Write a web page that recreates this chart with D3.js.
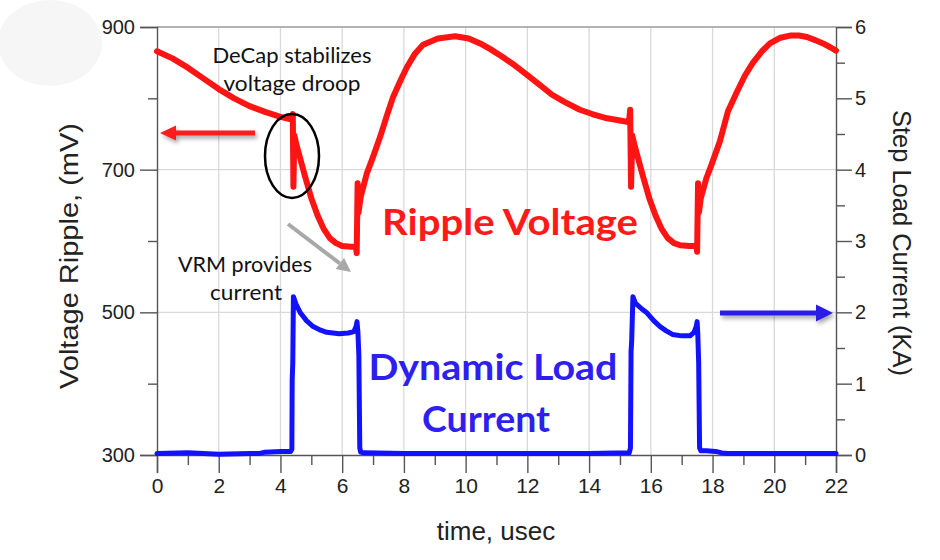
<!DOCTYPE html>
<html><head><meta charset="utf-8">
<script src="https://cdn.jsdelivr.net/npm/d3@7"></script>
<style>
html,body{margin:0;padding:0;background:#fff;}
svg{display:block;}
</style></head>
<body>
<svg id="chart" width="940" height="560"></svg>
<script>
// ---------------- data ----------------
const xTicks = [0,2,4,6,8,10,12,14,16,18,20,22];
const xMinorTicks = [1,3,5,7,9,11,13,15,17,19,21];
const leftTicks = [300,500,700,900];
const leftMinorTicks = [400,600,800];
const rightTicks = [0,1,2,3,4,5,6];
const rightMinorTicks = [0.5,1.5,2.5,3.5,4.5,5.5];

const rippleTime = [0,0.5,1,1.5,2,2.5,3,3.5,4,4.3,4.38,4.4,4.42,4.45,4.5,4.6,4.8,5.0,5.2,5.4,5.6,5.8,6.0,6.3,6.45,6.47,6.5,6.53,6.6,6.8,7.0,7.23,7.45,7.65,7.9,8.1,8.35,8.62,9.1,9.66,10.1,10.47,10.8,11.2,11.6,11.99,12.4,12.8,13.2,13.7,14.1,14.58,15.0,15.23,15.3,15.33,15.36,15.4,15.45,15.55,15.75,15.95,16.15,16.35,16.55,16.75,16.95,17.25,17.48,17.5,17.53,17.56,17.62,17.8,17.95,18.24,18.5,18.8,19.05,19.31,19.6,19.86,20.2,20.51,20.8,21.06,21.3,21.58,21.8,22];
const rippleMV = [866,856,843,828,813,800,789,781,774,771,775,778,676,748,738,722,690,660,636,617,604,597,593,592,592,583,681,640,662,695,718,746,776,802,826,844,862,875,884,887,884,877,869,858,846,833,819,805,795,784,778,772,769,767,770,784,676,748,738,722,690,660,636,617,604,597,594,593,593,585,681,640,660,688,705,740,782,810,832,850,866,877,885,888,888,886,882,877,872,867];

const loadTime = [0,1,2,3,3.3,3.5,4.0,4.33,4.37,4.38,4.40,4.42,4.5,4.65,4.85,5.06,5.3,5.5,5.9,6.2,6.38,6.45,6.48,6.51,6.54,6.57,6.6,6.7,8,10,12,14,15.3,15.34,15.36,15.38,15.42,15.5,15.7,15.88,16.1,16.3,16.5,16.7,17.0,17.27,17.4,17.47,17.5,17.52,17.55,17.58,17.62,17.8,18.1,18.3,18.5,20,22];
const loadKA = [0.02,0.03,0.01,0.02,0.02,0.04,0.05,0.05,0.08,1.05,1.3,2.22,2.12,1.99,1.88,1.8,1.75,1.72,1.70,1.71,1.73,1.80,1.87,1.72,1.40,0.1,0.04,0.03,0.02,0.02,0.02,0.02,0.03,0.1,1.45,1.6,2.22,2.13,2.05,1.99,1.88,1.8,1.74,1.69,1.67,1.67,1.72,1.8,1.87,1.72,1.3,0.1,0.06,0.06,0.05,0.03,0.02,0.02,0.02];

const xTitle = "time, usec";
const leftTitle = "Voltage Ripple, (mV)";
const rightTitle = "Step Load Current (KA)";

// ---------------- layout ----------------
const svg = d3.select("#chart");
const L = 157, R = 836, T = 27, B = 455;
const x = d3.scaleLinear().domain([0,22]).range([L,R]);
const yL = d3.scaleLinear().domain([300,900]).range([B,T]);
const yR = d3.scaleLinear().domain([0,6]).range([B,T]);

const defs = svg.append("defs");
const shadow = defs.append("filter").attr("id","shadow").attr("x","-20%").attr("y","-100%").attr("width","140%").attr("height","300%");
shadow.append("feDropShadow").attr("dx",2).attr("dy",3).attr("stdDeviation",2).attr("flood-color","#000").attr("flood-opacity",0.35);

// faint decorative circle top-left
svg.append("ellipse").attr("cx",50).attr("cy",43).attr("rx",52).attr("ry",43).attr("fill","#f6f6f6");

// gridlines
const grid = svg.append("g");
grid.selectAll("line.v").data(xTicks.filter(d=>d>0&&d<22)).join("line")
  .attr("x1",d=>x(d)).attr("x2",d=>x(d)).attr("y1",T).attr("y2",B)
  .attr("stroke","#d9d9d9").attr("stroke-width",1.3);
grid.selectAll("line.h").data([500,700]).join("line")
  .attr("x1",L).attr("x2",R).attr("y1",d=>yL(d)).attr("y2",d=>yL(d))
  .attr("stroke","#d9d9d9").attr("stroke-width",1.3);
// top frame
svg.append("line").attr("x1",L).attr("x2",R).attr("y1",T).attr("y2",T).attr("stroke","#9a9a9a").attr("stroke-width",1.3);

const tickFont = "'Liberation Sans', Arial, sans-serif";
function styleAxis(g){
  g.select(".domain").attr("stroke","#555").attr("stroke-width",1.4);
  g.selectAll(".tick line").attr("stroke","#555").attr("stroke-width",1.4);
  g.selectAll(".tick text").attr("fill","#222").style("font-family",tickFont);
}

// bottom axis
const gx = svg.append("g").attr("transform",`translate(0,${B})`)
  .call(d3.axisBottom(x).tickValues(xTicks).tickSize(18).tickPadding(5).tickFormat(d3.format("d")));
styleAxis(gx); gx.selectAll(".tick text").style("font-size","21px");
const gx2 = svg.append("g").attr("transform",`translate(0,${B})`)
  .call(d3.axisBottom(x).tickValues(xMinorTicks).tickSize(10).tickFormat(""));
styleAxis(gx2); gx2.select(".domain").remove();

// left axis
const gl = svg.append("g").attr("transform",`translate(${L},0)`)
  .call(d3.axisLeft(yL).tickValues(leftTicks).tickSize(17).tickPadding(5));
styleAxis(gl); gl.selectAll(".tick text").style("font-size","20px");
const gl2 = svg.append("g").attr("transform",`translate(${L},0)`)
  .call(d3.axisLeft(yL).tickValues(leftMinorTicks).tickSize(9).tickFormat(""));
styleAxis(gl2); gl2.select(".domain").remove();

// right axis
const gr = svg.append("g").attr("transform",`translate(${R},0)`)
  .call(d3.axisRight(yR).tickValues(rightTicks).tickSize(16).tickPadding(3).tickFormat(d3.format("d")));
styleAxis(gr); gr.selectAll(".tick text").style("font-size","20px");
const gr2 = svg.append("g").attr("transform",`translate(${R},0)`)
  .call(d3.axisRight(yR).tickValues(rightMinorTicks).tickSize(9).tickFormat(""));
styleAxis(gr2); gr2.select(".domain").remove();

// axis titles
svg.append("text").attr("x",496).attr("y",540).attr("text-anchor","middle")
  .style("font-family",tickFont).style("font-size","26px").attr("fill","#222").text(xTitle);
svg.append("text").attr("transform","translate(78,256) rotate(-90)").attr("text-anchor","middle")
  .attr("textLength",266).attr("lengthAdjust","spacingAndGlyphs")
  .style("font-family",tickFont).style("font-size","26px").attr("fill","#222").text(leftTitle);
svg.append("text").attr("transform","translate(893,243) rotate(90)").attr("text-anchor","middle")
  .attr("textLength",266).attr("lengthAdjust","spacingAndGlyphs")
  .style("font-family",tickFont).style("font-size","26px").attr("fill","#222").text(rightTitle);

// series
svg.append("path").datum(d3.zip(loadTime,loadKA))
  .attr("d", d3.line().x(d=>x(d[0])).y(d=>yR(d[1])))
  .attr("fill","none").attr("stroke","#1212ff").attr("stroke-width",5).attr("stroke-linejoin","round").attr("stroke-linecap","round");
svg.append("path").datum(d3.zip(rippleTime,rippleMV))
  .attr("d", d3.line().x(d=>x(d[0])).y(d=>yL(d[1])))
  .attr("fill","none").attr("stroke","#ff1414").attr("stroke-width",6).attr("stroke-linejoin","round").attr("stroke-linecap","round");

// arrows
function arrow(x1,y1,x2,y2,color,w,hl,hw,filter){
  const g = svg.append("g");
  if(filter) g.attr("filter","url(#shadow)");
  const ang = Math.atan2(y2-y1,x2-x1);
  const bx = x2 - hl*Math.cos(ang), by = y2 - hl*Math.sin(ang);
  g.append("line").attr("x1",x1).attr("y1",y1).attr("x2",bx).attr("y2",by)
    .attr("stroke",color).attr("stroke-width",w);
  const px = -Math.sin(ang)*hw/2, py = Math.cos(ang)*hw/2;
  g.append("path").attr("d",`M${x2},${y2}L${bx+px},${by+py}L${bx-px},${by-py}Z`).attr("fill",color);
}
arrow(255,133,160,133,"#ff1a1a",5,16,15,true);
arrow(720,313,833,313,"#2a1ee6",5,17,17,true);
arrow(288,224,351,272,"#a8a8a8",4,14,14,false);

// ellipse
svg.append("ellipse").attr("cx",292).attr("cy",156).attr("rx",27).attr("ry",42)
  .attr("fill","none").attr("stroke","#000").attr("stroke-width",2.5);

// annotations
const annFont = "Lato, 'Open Sans', sans-serif";
function ann(txt,cx,y,len,size,color,weight){
  svg.append("text").attr("x",cx).attr("y",y).attr("text-anchor","middle")
    .style("font-family",annFont).style("font-size",size+"px").style("font-weight",weight)
    .attr("fill",color).attr("textLength",len).attr("lengthAdjust","spacingAndGlyphs").text(txt);
}
ann("DeCap stabilizes",292,63,159,21,"#111","normal");
ann("voltage droop",292,91,137,21,"#111","normal");
ann("VRM provides",245,272,134,21,"#111","normal");
ann("current",246,300,72,21,"#111","normal");
ann("Ripple Voltage",510,235,256,37,"#ff1a1a","bold");
ann("Dynamic Load",493,380,249,36,"#2e1ff0","bold");
ann("Current",486,432,128,36,"#2e1ff0","bold");
</script>
</body></html>
